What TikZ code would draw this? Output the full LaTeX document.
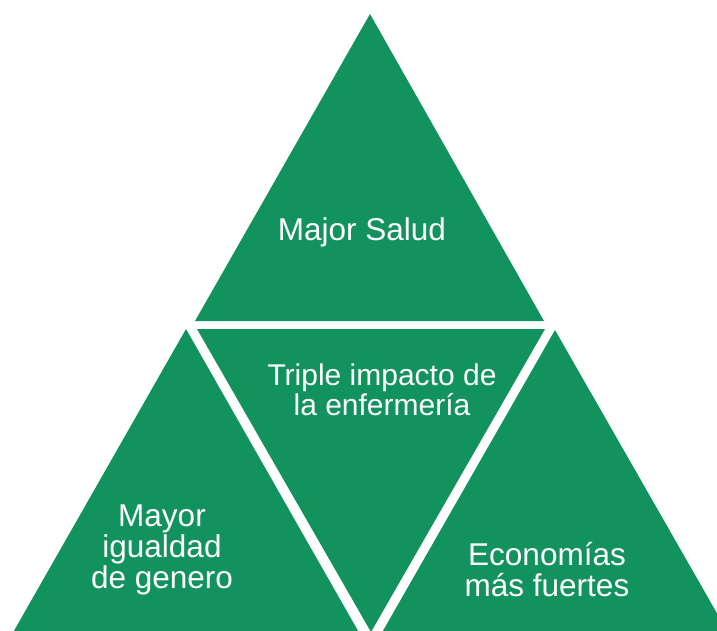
\documentclass[tikz,border=0pt]{standalone}
\usepackage{fontspec}
\setmainfont{Liberation Sans}
\usepackage{tikz}
\definecolor{trigreen}{RGB}{18,147,94}

\begin{document}
\begin{tikzpicture}[x=1pt,y=-1pt,
    tri/.style={fill=trigreen},
    lbl/.style={text=white, align=center, font=\fontsize{31.5}{31}\selectfont}]
  \useasboundingbox (0,0) rectangle (717,631);
  \clip (0,0) rectangle (717,631);
  \fill[tri] (370,14) -- (195,321) -- (544,321) -- cycle;
  \fill[tri] (197,329) -- (545,329) -- (371,632) -- cycle;
  \fill[tri] (186,329) -- (361,636) -- (11,636) -- cycle;
  \fill[tri] (555,330) -- (730,636) -- (380,636) -- cycle;
  \node[lbl] (salud) at (362,232) {Major Salud};
  \node[lbl, font=\fontsize{30}{30}\selectfont] (impacto) at (382,390) {Triple impacto de\\la enfermería};
  \node[lbl] (genero) at (162,550) {Mayor\\igualdad\\de genero};
  \node[lbl] (economia) at (547,570) {Economías\\más fuertes};
\end{tikzpicture}
\end{document}
